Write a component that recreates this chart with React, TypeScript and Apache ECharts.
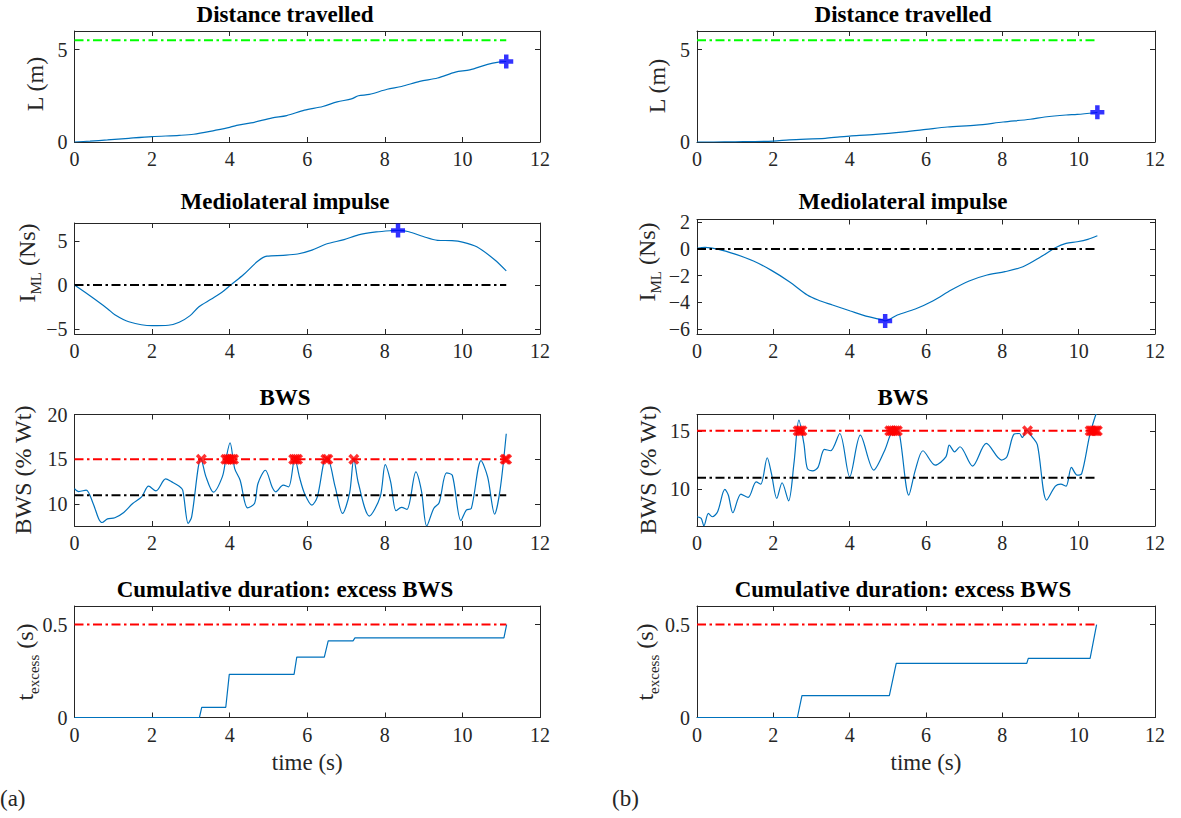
import React, { useEffect, useRef } from "react";
import * as echarts from "echarts";

type Pt = [number, number];

// ---------- ticks ----------
const timeTicks = [0, 2, 4, 6, 8, 10, 12];
const distTicks = [0, 5];
const mlTicksA = [-5, 0, 5];
const mlTicksB = [-6, -4, -2, 0, 2];
const bwsTicksA = [10, 15, 20];
const bwsTicksB = [10, 15];
const excTicks = [0, 0.5];

// ---------- thresholds ----------
const distGoal = 5.5;
const mlZero = 0;
const bwsLow = 11;
const bwsHigh = 15;
const excessLimit = 0.5;
const tEndA = 11.13;
const tEndB = 10.49;

// ---------- trial (a) ----------
const distA: Pt[] = [
  [0, 0], [0.4, 0.05], [0.85, 0.11], [1.4, 0.2], [2.0, 0.29], [2.7, 0.36], [3.07, 0.42],
  [3.62, 0.63], [4.0, 0.79], [4.18, 0.9], [4.55, 1.03], [5.1, 1.3], [5.47, 1.43], [5.93, 1.72],
  [6.4, 1.92], [6.77, 2.17], [7.14, 2.33], [7.32, 2.5], [7.6, 2.57], [8.06, 2.85], [8.43, 3.0],
  [8.9, 3.28], [9.36, 3.46], [9.82, 3.78], [10.19, 3.9], [10.65, 4.2], [10.93, 4.32], [11.13, 4.35],
];
const distAEnd: Pt[] = [[11.13, 4.35]];

const mlA: Pt[] = [
  [0, 0], [0.39, -1.2], [0.85, -2.7], [1.04, -3.4], [1.4, -4.2], [2.0, -4.65], [2.42, -4.6],
  [2.7, -4.25], [2.98, -3.5], [3.2, -2.5], [3.53, -1.6], [3.81, -0.8], [4.04, 0.05], [4.36, 1.2],
  [4.73, 2.75], [4.96, 3.3], [5.38, 3.4], [5.75, 3.55], [6.12, 4.0], [6.49, 4.7], [6.95, 5.2],
  [7.32, 5.75], [7.78, 6.08], [8.15, 6.22], [8.34, 6.25], [8.62, 6.1], [8.99, 5.55], [9.36, 5.12],
  [9.73, 5.08], [10.0, 4.92], [10.37, 4.38], [10.83, 2.9], [11.13, 1.62],
];
const mlAPeak: Pt[] = [[8.34, 6.25]];

const bwsA: Pt[] = [
  [0, 11.74], [0.11, 11.4], [0.3, 11.56], [0.48, 10.07], [0.62, 8.41], [0.71, 7.95], [0.85, 8.35],
  [1.04, 8.48], [1.27, 9.07], [1.5, 10.07], [1.73, 10.81], [1.91, 12.0], [2.1, 11.48], [2.35, 12.81],
  [2.51, 12.48], [2.7, 12.0], [2.79, 11.56], [2.93, 7.85], [3.02, 8.59], [3.26, 15.1], [3.39, 13.04],
  [3.58, 11.33], [3.81, 13.04], [3.9, 14.96], [4.01, 16.85], [4.13, 13.96], [4.27, 12.67],
  [4.46, 9.59], [4.64, 10.07], [4.73, 12.3], [4.92, 13.78], [5.1, 11.85], [5.19, 11.37],
  [5.38, 12.11], [5.52, 11.93], [5.68, 15.1], [5.8, 13.0], [5.93, 11.19], [6.12, 9.89],
  [6.26, 10.81], [6.44, 14.9], [6.52, 15.1], [6.72, 11.93], [6.91, 8.96], [7.09, 11.19],
  [7.2, 15.05], [7.32, 12.3], [7.6, 8.67], [7.88, 10.81], [8.01, 14.4], [8.15, 12.48], [8.29, 9.26],
  [8.43, 9.63], [8.57, 9.41], [8.8, 13.59], [8.94, 11.56], [9.08, 7.56], [9.26, 9.52], [9.4, 10.15],
  [9.59, 13.48], [9.74, 13.22], [9.96, 8.15], [10.1, 9.33], [10.23, 9.52], [10.48, 14.85],
  [10.65, 13.04], [10.83, 8.89], [10.97, 11.56], [11.13, 17.85],
];
const bwsAMarks: number[] = [3.27, 3.9, 3.95, 4.0, 4.05, 4.1, 5.65, 5.7, 5.75, 6.48, 6.53, 7.2, 11.1, 11.14];

const excA: Pt[] = [
  [0, 0], [3.22, 0], [3.28, 0.055], [3.9, 0.055], [3.99, 0.232], [5.66, 0.232], [5.73, 0.325],
  [6.44, 0.325], [6.54, 0.4125], [7.18, 0.4125], [7.23, 0.4286], [11.07, 0.4286], [11.14, 0.5],
];

// ---------- trial (b) ----------
const distB: Pt[] = [
  [0, 0], [0.44, 0], [1.0, 0.01], [2.0, 0.05], [2.42, 0.12], [3.36, 0.2], [3.74, 0.28], [4.0, 0.32],
  [4.68, 0.41], [5.43, 0.55], [6.0, 0.68], [6.56, 0.81], [7.32, 0.91], [8.02, 1.08], [8.73, 1.23],
  [9.11, 1.35], [9.67, 1.46], [9.96, 1.49], [10.43, 1.58], [10.49, 1.6],
];
const distBEnd: Pt[] = [[10.49, 1.61]];

const mlB: Pt[] = [
  [0, 0.05], [0.21, 0.12], [0.54, 0], [1.0, -0.38], [1.48, -0.9], [1.95, -1.6], [2.42, -2.45],
  [2.89, -3.45], [3.17, -3.83], [3.55, -4.2], [4.02, -4.65], [4.49, -5.08], [4.87, -5.33],
  [4.93, -5.4], [5.25, -4.95], [5.72, -4.5], [6.19, -3.88], [6.66, -3.08], [7.13, -2.4], [7.6, -1.95],
  [8.07, -1.7], [8.54, -1.33], [9.01, -0.58], [9.39, 0.1], [9.67, 0.43], [9.96, 0.55], [10.24, 0.73],
  [10.49, 1.0],
];
const mlBPeak: Pt[] = [[4.93, -5.4]];

const bwsB: Pt[] = [
  [0, 7.67], [0.11, 7.53], [0.18, 6.9], [0.3, 7.95], [0.4, 7.67], [0.54, 8.1], [0.73, 10.0],
  [0.82, 9.52], [0.94, 8.01], [1.15, 9.6], [1.34, 9.32], [1.55, 10.65], [1.67, 10.45], [1.84, 12.7],
  [1.95, 11.36], [2.09, 9.23], [2.23, 10.57], [2.4, 9.03], [2.54, 12.22], [2.67, 15.91], [2.8, 13.92],
  [2.89, 11.79], [3.03, 11.59], [3.17, 11.88], [3.34, 13.41], [3.5, 13.3], [3.74, 14.77], [4.0, 11.08],
  [4.28, 14.63], [4.63, 11.65], [4.92, 13.35], [5.06, 14.6], [5.18, 15.2], [5.3, 14.8], [5.55, 9.52],
  [5.72, 11.65], [5.92, 13.3], [6.24, 12.07], [6.52, 12.78], [6.61, 13.78], [6.75, 13.21],
  [6.89, 13.64], [7.22, 11.99], [7.58, 13.92], [7.98, 12.5], [8.12, 12.78], [8.31, 14.72],
  [8.45, 14.77], [8.52, 14.43], [8.64, 15.05], [8.78, 14.49], [8.92, 13.78], [9.16, 9.09],
  [9.39, 10.28], [9.53, 10.45], [9.67, 10.28], [9.81, 11.88], [9.96, 11.22], [10.08, 11.36],
  [10.29, 14.63], [10.45, 16.39], [10.49, 16.6],
];
const bwsBMarks: number[] = [2.65, 2.7, 2.75, 5.05, 5.1, 5.15, 5.2, 5.25, 8.66, 10.3, 10.35, 10.4, 10.45, 10.49];

const excB: Pt[] = [
  [0, 0], [2.63, 0], [2.75, 0.118], [5.04, 0.118], [5.22, 0.291], [8.64, 0.291], [8.68, 0.318],
  [10.3, 0.318], [10.47, 0.5],
];

// ---------- styling ----------
const FONT = '"Liberation Serif", "Times New Roman", serif';
const AXIS_COLOR = "#262626";
const BLUE = "#0072BD";
const DASHDOT = [9, 3.5, 2.5, 3.5];
const PLUS = "path://M3.4,0H6.6V3.4H10V6.6H6.6V10H3.4V6.6H0V3.4H3.4Z";
const CROSS = "path://M0,2.2L2.2,0L5,2.8L7.8,0L10,2.2L7.2,5L10,7.8L7.8,10L5,7.2L2.2,10L0,7.8L2.8,5Z";

const colLeft = [74.5, 697];
const colWidth = [465.5, 458];
const rowTop = [31, 223, 414.5, 606];
const rowHeight = [111, 111, 111.5, 111.5];
const titleX = [285, 903];
const titleTop = [3, 190, 386, 578];

interface Ref { v: number; color: string }
interface Panel {
  title: string;
  data: Pt[];
  smooth: number | boolean;
  yMin: number;
  yMax: number;
  yTicks: number[];
  refs: Ref[];
  tEnd: number;
  marks: Pt[];
  markKind: "plus" | "cross";
  yName: string;
  nameX: number;
  nameY: number;
}

const toMarks = (xs: number[], y: number): Pt[] => xs.map((x) => [x, y] as Pt);

const panels: Panel[] = [
  { title: "Distance travelled", data: distA, smooth: 0.3, yMin: 0, yMax: 6, yTicks: distTicks,
    refs: [{ v: distGoal, color: "#00ff00" }], tEnd: tEndA, marks: distAEnd, markKind: "plus",
    yName: "{m|L (m)}", nameX: 35, nameY: 84 },
  { title: "Mediolateral impulse", data: mlA, smooth: 0.3, yMin: -5.6, yMax: 7.1, yTicks: mlTicksA,
    refs: [{ v: mlZero, color: "#000000" }], tEnd: tEndA, marks: mlAPeak, markKind: "plus",
    yName: "{m|I}{s|ML}{m| (Ns)}", nameX: 27, nameY: 263 },
  { title: "BWS", data: bwsA, smooth: 0.3, yMin: 7.56, yMax: 20, yTicks: bwsTicksA,
    refs: [{ v: bwsLow, color: "#000000" }, { v: bwsHigh, color: "#ff0000" }], tEnd: tEndA,
    marks: toMarks(bwsAMarks, bwsHigh), markKind: "cross",
    yName: "{m|BWS (% Wt)}", nameX: 23, nameY: 470 },
  { title: "Cumulative duration: excess BWS", data: excA, smooth: false, yMin: 0, yMax: 0.6, yTicks: excTicks,
    refs: [{ v: excessLimit, color: "#ff0000" }], tEnd: tEndA, marks: [], markKind: "cross",
    yName: "{m|t}{s|excess}{m| (s)}", nameX: 25, nameY: 662 },
  { title: "Distance travelled", data: distB, smooth: 0.3, yMin: 0, yMax: 6, yTicks: distTicks,
    refs: [{ v: distGoal, color: "#00ff00" }], tEnd: tEndB, marks: distBEnd, markKind: "plus",
    yName: "{m|L (m)}", nameX: 657, nameY: 86 },
  { title: "Mediolateral impulse", data: mlB, smooth: 0.3, yMin: -6.38, yMax: 2.22, yTicks: mlTicksB,
    refs: [{ v: mlZero, color: "#000000" }], tEnd: tEndB, marks: mlBPeak, markKind: "plus",
    yName: "{m|I}{s|ML}{m| (Ns)}", nameX: 647, nameY: 262 },
  { title: "BWS", data: bwsB, smooth: 0.3, yMin: 6.88, yMax: 16.39, yTicks: bwsTicksB,
    refs: [{ v: bwsLow, color: "#000000" }, { v: bwsHigh, color: "#ff0000" }], tEnd: tEndB,
    marks: toMarks(bwsBMarks, bwsHigh), markKind: "cross",
    yName: "{m|BWS (% Wt)}", nameX: 648, nameY: 470 },
  { title: "Cumulative duration: excess BWS", data: excB, smooth: false, yMin: 0, yMax: 0.6, yTicks: excTicks,
    refs: [{ v: excessLimit, color: "#ff0000" }], tEnd: tEndB, marks: [], markKind: "cross",
    yName: "{m|t}{s|excess}{m| (s)}", nameX: 645, nameY: 662 },
];

const fmt = (v: number) => (v < 0 ? "\u2212" + Math.abs(v) : String(v));

function buildOption() {
  const grid: any[] = [];
  const xAxis: any[] = [];
  const yAxis: any[] = [];
  const series: any[] = [];
  const title: any[] = [];
  const graphic: any[] = [];

  const axisLine = { show: true, onZero: false, lineStyle: { color: AXIS_COLOR, width: 1 } };
  const tick = (vals: number[]) => ({ show: true, inside: true, length: 5, customValues: vals,
    lineStyle: { color: AXIS_COLOR, width: 1 } });
  const label = (vals: number[], margin: number) => ({ show: true, customValues: vals, color: AXIS_COLOR,
    fontFamily: FONT, fontSize: 20, margin, formatter: fmt, showMinLabel: true, showMaxLabel: true });

  panels.forEach((p, g) => {
    const col = g < 4 ? 0 : 1;
    const row = g % 4;
    let top = rowTop[row];
    let height = rowHeight[row];
    if (g === 5) { top = 219.5; height = 114.5; }
    grid.push({ left: colLeft[col], top, width: colWidth[col], height, containLabel: false });

    xAxis.push({
      type: "value", gridIndex: g, position: "bottom", min: 0, max: 12,
      axisLine, axisTick: tick(timeTicks), axisLabel: label(timeTicks, 7), splitLine: { show: false },
      name: row === 3 ? "time (s)" : "", nameLocation: "middle", nameGap: 33,
      nameTextStyle: { fontFamily: FONT, fontSize: 23, color: AXIS_COLOR },
    });
    xAxis.push({
      type: "value", gridIndex: g, position: "top", min: 0, max: 12,
      axisLine, axisTick: tick(timeTicks), axisLabel: { show: false }, splitLine: { show: false },
    });
    yAxis.push({
      type: "value", gridIndex: g, position: "left", min: p.yMin, max: p.yMax,
      axisLine, axisTick: tick(p.yTicks), axisLabel: label(p.yTicks, 7), splitLine: { show: false },
    });
    yAxis.push({
      type: "value", gridIndex: g, position: "right", min: p.yMin, max: p.yMax,
      axisLine, axisTick: tick(p.yTicks), axisLabel: { show: false }, splitLine: { show: false },
    });

    series.push({
      type: "line", xAxisIndex: 2 * g, yAxisIndex: 2 * g, data: p.data, smooth: p.smooth,
      symbol: "none", showSymbol: false, lineStyle: { color: BLUE, width: 1.2 }, z: 3, silent: true,
    });
    p.refs.forEach((r) => {
      series.push({
        type: "line", xAxisIndex: 2 * g, yAxisIndex: 2 * g, data: [[0, r.v], [p.tEnd, r.v]],
        symbol: "none", showSymbol: false, lineStyle: { color: r.color, width: 2, type: DASHDOT },
        z: 4, silent: true,
      });
    });
    if (p.marks.length) {
      const isPlus = p.markKind === "plus";
      series.push({
        type: "scatter", xAxisIndex: 2 * g, yAxisIndex: 2 * g, data: p.marks,
        symbol: isPlus ? PLUS : CROSS, symbolSize: isPlus ? 14 : 11, symbolKeepAspect: true,
        itemStyle: { color: isPlus ? "#0000ff" : "#ff0000" }, z: 5, silent: true,
      });
    }

    title.push({
      text: p.title, left: titleX[col], top: titleTop[row], textAlign: "center", padding: 0,
      textStyle: { fontFamily: FONT, fontSize: 23, fontWeight: "bold", color: "#000" },
    });

    graphic.push({
      type: "text", x: p.nameX, y: p.nameY, rotation: Math.PI / 2, silent: true,
      style: {
        text: p.yName, fill: AXIS_COLOR, font: `24px ${FONT}`,
        align: "center", verticalAlign: "middle", textAlign: "center", textVerticalAlign: "middle",
        rich: {
          m: { fontFamily: FONT, fontSize: 24, lineHeight: 24, verticalAlign: "top", fill: AXIS_COLOR, color: AXIS_COLOR },
          s: { fontFamily: FONT, fontSize: 15, lineHeight: 15, verticalAlign: "top", padding: [13, 0, 0, 0], fill: AXIS_COLOR, color: AXIS_COLOR },
        },
      },
    });
  });

  graphic.push({
    type: "text", x: 0, y: 798, silent: true,
    style: { text: "(a)", fill: AXIS_COLOR, font: `23px ${FONT}`, align: "left", verticalAlign: "middle",
      textAlign: "left", textVerticalAlign: "middle" },
  });
  graphic.push({
    type: "text", x: 612, y: 798, silent: true,
    style: { text: "(b)", fill: AXIS_COLOR, font: `23px ${FONT}`, align: "left", verticalAlign: "middle",
      textAlign: "left", textVerticalAlign: "middle" },
  });

  return {
    animation: false,
    backgroundColor: "#ffffff",
    title,
    grid,
    xAxis,
    yAxis,
    series,
    graphic,
  };
}

export default function App() {
  const ref = useRef<HTMLDivElement>(null);
  useEffect(() => {
    const chart = echarts.init(ref.current!, null, { renderer: "svg" });
    chart.setOption(buildOption() as any);
    return () => chart.dispose();
  }, []);
  return (
    <div
      ref={ref}
      style={{ position: "absolute", left: 0, top: 0, width: 1181, height: 818, background: "#fff" }}
    />
  );
}
